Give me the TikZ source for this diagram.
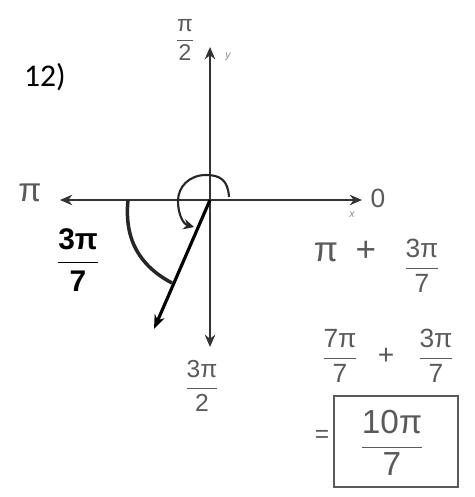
\documentclass[tikz,border=0pt]{standalone}
\usepackage{fontspec}
\setmainfont{Liberation Sans}
\newfontfamily\printfont{Carlito}
\usetikzlibrary{arrows.meta}
\definecolor{pencil}{HTML}{5A5A5A}
\definecolor{axisc}{HTML}{333333}
\newcommand\hfr[2]{$\displaystyle\frac{\mbox{#1}}{\mbox{#2}}$}
\tikzset{
  pen/.style={text=pencil, inner sep=0pt},
  fs/.style={font=\fontsize{#1}{#1}\selectfont},
  axisline/.style={draw=axisc, line width=0.9pt, {Stealth[length=7pt,width=6pt]}-{Stealth[length=7pt,width=6pt]}},
  rayline/.style={draw=black, line width=1.8pt, -{Stealth[length=8pt,width=6pt]}},
  arcline/.style={draw=black!85, line width=1.5pt},
  tiny/.style={text=pencil!70, font=\fontsize{6}{6}\selectfont\itshape, inner sep=0pt}
}
\begin{document}
\begin{tikzpicture}[x=0.02cm,y=-0.02cm]
\useasboundingbox[fill=white] (0,0) rectangle (474,497);
% axes
\coordinate (O) at (210,200);
\coordinate (xl) at (60,200);
\coordinate (xr) at (362,200);
\coordinate (yt) at (210,47);
\coordinate (yb) at (210,347);
\draw[axisline] (xl) -- (xr);
\draw[axisline] (yb) -- (yt);
% terminal ray
\coordinate (rend) at (154,329);
\draw[rayline] (O) -- (rend);
% rotation arc
\coordinate (sa) at (229,197);
\coordinate (se) at (194,227);
\draw[arcline, line width=1.2pt, -{Stealth[length=6pt,width=6pt]}] (sa) .. controls (228,180) and (220,175) .. (206,175) .. controls (189,175) and (178,187) .. (178,201) .. controls (178,214) and (183,224) .. (se);
% reference angle arc
\coordinate (ba) at (128,200);
\coordinate (bb) at (172,283);
\draw[arcline, line width=2pt] (ba) .. controls (124,240) and (140,266) .. (bb);
% labels
\node[font=\printfont\fontsize{18}{18}\selectfont, inner sep=0pt] (num) at (45,77) {12)};
\node[pen, fs=13] (top) at (185,40) {\hfr{π}{2}};
\node[tiny] (ylab) at (228,57) {y};
\node[pen, fs=19] (pil) at (30,193) {π};
\node[pen, fs=15] (zero) at (378,198) {0};
\node[tiny] (xlab) at (352,215) {x};
\node[pen, fs=14] (bot) at (202,386) {\hfr{3π}{2}};
\node[inner sep=0pt, font=\bfseries\fontsize{17}{17}\selectfont] (ref) at (78,260) {\hfr{3π}{7}};
% right side work
\node[pen, fs=20] (e1a) at (345,252) {π\hspace{0.5em}+};
\node[pen, fs=15] (e1b) at (422,266) {\hfr{3π}{7}};
\node[pen, fs=15] (e2a) at (340,356) {\hfr{7π}{7}};
\node[pen, fs=16] (e2p) at (386,356) {+};
\node[pen, fs=15] (e2b) at (436,356) {\hfr{3π}{7}};
\node[pen, fs=14] (eq) at (322,436) {=};
\node[pen, fs=19] (res) at (392,443) {\hfr{10π}{7}};
\draw[draw=pencil, line width=0.8pt] (334,396) rectangle (458,487);
\end{tikzpicture}
\end{document}
